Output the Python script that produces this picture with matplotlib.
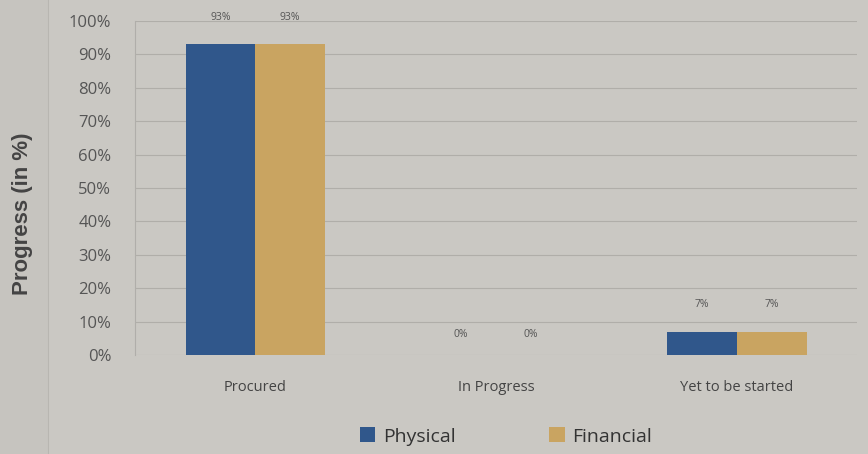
import numpy as np
import matplotlib.pyplot as plt
from matplotlib.patches import Rectangle
from matplotlib.lines import Line2D

#--- data
categories = ['Procured', 'In Progress', 'Yet to be started']
physical = [93, 0, 7]
financial = [93, 0, 7]
yticks = [0, 10, 20, 30, 40, 50, 60, 70, 80, 90, 100]

bg = '#cac8c3'
col_physical = '#30578b'
col_financial = '#c9a461'

plt.rcParams['font.family'] = ['Open Sans', 'DejaVu Sans']

fig = plt.figure(figsize=(8.68, 4.54), dpi=100)
fig.patch.set_facecolor(bg)

#--- scanned strip on the left
fig.patches.append(Rectangle((0, 0), 48 / 868, 1, transform=fig.transFigure,
                             facecolor='#c6c4bf', edgecolor='none', zorder=0))
fig.add_artist(Line2D([48 / 868, 48 / 868], [0, 1], transform=fig.transFigure,
                      color='#b8b6b1', linewidth=0.8))

ax = fig.add_axes([0.1555, 0.218, 0.832, 0.7357])
ax.set_facecolor(bg)

x = np.arange(len(categories))
w = 0.29
b1 = ax.bar(x - w / 2, physical, w, color=col_physical, label='Physical', zorder=3)
b2 = ax.bar(x + w / 2, financial, w, color=col_financial, label='Financial', zorder=3)

for bars in (b1, b2):
    for rect in bars:
        v = rect.get_height()
        off = 6 if v == 0 else 8
        ax.text(rect.get_x() + rect.get_width() / 2, v + off, f'{v:.0f}%',
                ha='center', va='center', fontsize=7.5, color='#555555', zorder=4)

ax.set_xlim(-0.5, 2.5)
ax.set_ylim(0, 100)
ax.set_yticks(yticks)
ax.set_yticklabels([f'{t}%' for t in yticks], fontsize=12, color='#555555')
ax.set_xticks(x)
ax.set_xticklabels(categories, fontsize=10.5, color='#444444')
ax.tick_params(axis='both', length=0)
ax.tick_params(axis='y', pad=17)
ax.tick_params(axis='x', pad=18)

ax.grid(axis='y', color='#b0aea9', linewidth=0.8, zorder=0)
for s in ['top', 'right', 'bottom']:
    ax.spines[s].set_visible(False)
ax.spines['left'].set_color('#b0aeaa')
ax.spines['left'].set_linewidth(0.8)

fig.text(0.026, 0.53, 'Progress (in %)', rotation=90, ha='center', va='center',
         fontsize=16, fontweight='bold', color='#444444', family=['Liberation Sans'])

fig.legend(handles=[b1, b2], labels=['Physical', 'Financial'], loc='lower center',
           bbox_to_anchor=(0.583, -0.02), ncol=2, frameon=False, fontsize=14,
           handlelength=0.8, handleheight=0.8, columnspacing=4.8, handletextpad=0.4,
           labelcolor='#333333')

fig.savefig('out.png', dpi=100, facecolor=bg)
